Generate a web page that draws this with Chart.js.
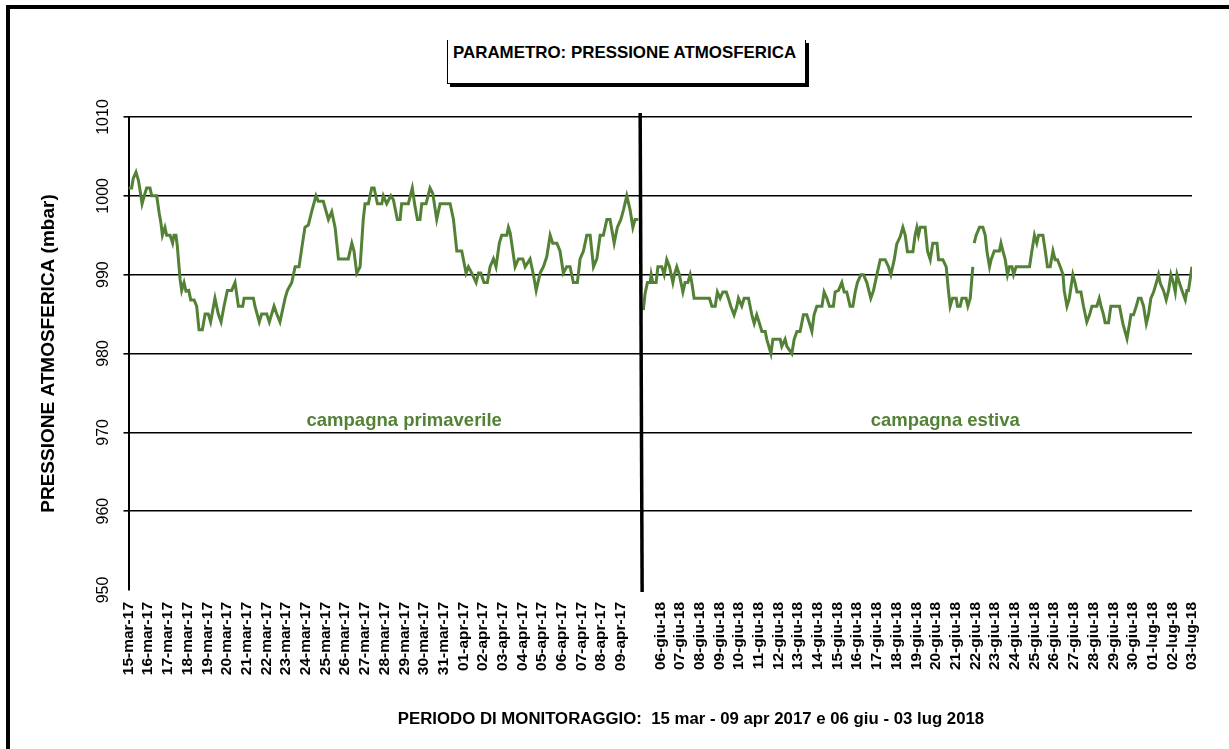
<!DOCTYPE html>
<html>
<head>
<meta charset="utf-8">
<script src="https://cdn.jsdelivr.net/npm/chart.js@4.4.1/dist/chart.umd.min.js"></script>
<style>
  html, body { margin: 0; padding: 0; background: #fff; }
  body { width: 1229px; height: 749px; position: relative; overflow: hidden; font-family: "Liberation Sans", Arial, sans-serif; }
  #frame { position: absolute; left: 6px; top: 5px; width: 1400px; height: 900px; border-top: 4px solid #000; border-left: 4px solid #000; }
  #titlebox { position: absolute; left: 447px; top: 40px; width: 359px; height: 44px; box-sizing: border-box;
              border-left: 1px solid #000; border-right: 1px solid #000; border-bottom: 1px solid #000; box-shadow: 3px 3px 0 #000; }
  #titletext { position: absolute; left: 5px; top: 5px; font-weight: bold; font-size: 16.9px; line-height: 16px; white-space: nowrap; color: #000; }
  canvas { position: absolute; left: 0; top: 0; }
</style>
</head>
<body>
<div id="frame"></div>
<div id="titlebox"><div id="titletext">PARAMETRO: PRESSIONE ATMOSFERICA</div></div>
<canvas id="chart" width="1229" height="749"></canvas>
<script>
// tick labels, one per day (index 26 is the empty slot between the campaigns)
const dayLabels = [
  '15-mar-17','16-mar-17','17-mar-17','18-mar-17','19-mar-17','20-mar-17','21-mar-17','22-mar-17','23-mar-17',
  '24-mar-17','25-mar-17','26-mar-17','27-mar-17','28-mar-17','29-mar-17','30-mar-17','31-mar-17',
  '01-apr-17','02-apr-17','03-apr-17','04-apr-17','05-apr-17','06-apr-17','07-apr-17','08-apr-17','09-apr-17',
  '',
  '06-giu-18','07-giu-18','08-giu-18','09-giu-18','10-giu-18','11-giu-18','12-giu-18','13-giu-18','14-giu-18',
  '15-giu-18','16-giu-18','17-giu-18','18-giu-18','19-giu-18','20-giu-18','21-giu-18','22-giu-18','23-giu-18',
  '24-giu-18','25-giu-18','26-giu-18','27-giu-18','28-giu-18','29-giu-18','30-giu-18',
  '01-lug-18','02-lug-18','03-lug-18'
];
const yTicks = [950, 960, 970, 980, 990, 1000, 1010];

// campagna primaverile: time in days from 15-mar, pressure in mbar
const springDays = [
  0.00,0.16,0.24,0.38,0.50,0.58,0.69,0.80,0.92,1.09,1.18,1.43,1.56,1.65,1.72,1.85,1.94,2.11,2.24,2.31,
  2.41,2.48,2.62,2.70,2.82,2.92,3.06,3.16,3.33,3.46,3.58,3.75,3.89,4.05,4.17,4.39,4.56,4.70,4.85,5.02,
  5.24,5.41,5.58,5.80,5.87,6.08,6.34,6.42,6.64,6.76,7.02,7.15,7.39,7.53,7.69,7.95,8.07,8.29,8.46,8.66,
  8.80,8.96,9.13,9.30,9.52,9.64,9.89,10.15,10.32,10.49,10.66,10.91,11.16,11.34,11.45,11.59,11.76,11.92,12.01,12.18,
  12.35,12.47,12.64,12.86,12.94,13.11,13.32,13.45,13.65,13.79,13.87,14.21,14.41,14.55,14.67,14.80,14.89,15.11,15.31,15.45,
  15.65,15.82,16.33,16.50,16.67,16.92,17.14,17.26,17.43,17.65,17.77,17.89,18.05,18.22,18.36,18.53,18.66,18.83,18.95,19.21,
  19.29,19.38,19.63,19.80,20.02,20.14,20.39,20.56,20.70,20.90,21.07,21.24,21.41,21.54,21.75,21.91,22.08,22.25,22.42,22.59,
  22.79,22.93,23.10,23.27,23.44,23.61,23.78,23.95,24.11,24.29,24.45,24.66,24.82,25.00,25.13,25.30,25.47,25.61,25.72,25.89
];
const springPressure = [
  1001,1001,1002.2,1003,1002,1000.8,999,1000,1001,1001,1000,1000,997.8,996.5,995,996,995,995,994,995,
  995,993.6,989.4,988,989,987.9,988,986.8,986.8,986,983,983,985,985,984,987,985,984,986,988,
  988,989,986,986,987,987,987,986,984,985,985,984,986,985,984,987,988,989,991,991,
  993.4,996,996.3,998,1000,999.3,999.3,997,998,996,992,992,992,994,993,990.2,991,997,999,999,
  1001,1001,999,999,1000,999,1000,999.5,997,997,999,999,1001,998.6,997,997,999,999,1001,1000.3,
  997,999,999,997,993,993,990.2,991,990.2,989,990.2,990.2,989,989,991,992,991,994,995,995,
  996,995.3,991,992,992,991,992,990,988,990.2,991,992.3,995,994,994,993,990.2,991,991,989,
  989,992,993,995,995,991,992,995,995,997,997,994,996,997,998.2,1000,998.2,996,997,997
];

// campagna estiva (null = missing data)
const summerDays = [
  26.14,26.23,26.35,26.49,26.54,26.62,26.79,26.88,27.08,27.20,27.33,27.47,27.64,27.72,27.84,27.97,28.15,28.26,28.40,28.52,
  28.60,28.72,28.86,29.28,29.50,29.62,29.79,29.90,30.04,30.18,30.35,30.46,30.58,30.75,30.89,30.97,31.14,31.26,31.48,31.65,
  31.77,31.90,32.04,32.16,32.33,32.41,32.62,32.72,32.92,33.09,33.17,33.34,33.43,33.68,33.80,33.94,34.10,34.27,34.44,34.58,
  34.70,34.81,34.95,35.21,35.32,35.46,35.59,35.79,35.88,36.05,36.22,36.34,36.47,36.64,36.78,36.90,37.01,37.19,37.32,37.49,
  37.69,37.83,38.00,38.17,38.42,38.59,38.71,38.88,39.01,39.18,39.32,39.44,39.55,39.83,39.94,40.03,40.11,40.20,40.45,40.57,
  40.71,40.84,41.05,41.13,41.35,41.52,41.64,41.72,41.84,42.03,42.09,42.23,42.32,42.53,42.62,42.74,42.87,42.90,42.94,43.04,
  43.21,43.38,43.50,43.59,43.72,43.80,43.96,44.22,44.30,44.40,44.52,44.63,44.73,44.86,44.94,45.07,45.19,45.75,45.87,46.00,
  46.12,46.21,46.43,46.55,46.66,46.80,46.94,47.05,47.17,47.31,47.45,47.51,47.65,47.77,47.95,48.07,48.16,48.36,48.49,48.66,
  48.80,48.92,49.17,49.29,49.38,49.51,49.59,49.76,49.88,50.32,50.49,50.70,50.83,50.90,51.03,51.17,51.28,51.41,51.54,51.68,
  51.79,51.91,52.05,52.18,52.30,52.39,52.55,52.69,52.81,52.93,53.06,53.15,53.24,53.37,53.49,53.66,53.74,53.82,54.00
];
const summerPressure = [
  985.5,987.6,989,989,990,989,989,991,991,990,991.9,991,989,990,991,990,987.8,989,989,990,
  989,987,987,987,987,986,986,987.8,987,987.8,987.8,987,986,984.9,986,987,986,987,987,984.9,
  983.8,984.9,983.8,982.8,982.8,981.8,980,981.8,981.8,981.8,980.9,981.8,980.9,980,981.8,982.8,982.8,984.9,984.9,983.8,
  982.8,984.9,986,986,987.8,987,986,986,987.8,988,989,987.8,987.8,986,986,987.8,989,990,990,989,
  987,988,990,991.9,991.9,991,990,991.9,993.9,994.8,996,995,992.9,992.9,995,996,995,996,996,993,
  991.9,994,994,991.9,991.9,991,987.8,986,987,987,986,986,987,987,986,987,991,null,994,995,
  996,996,995,992.9,991,991.9,993,993,994,993,991.9,990,991,991,990,991,991,991,993,995,
  994,995,995,993,991,991,993,991.9,991.9,991,990,988,986,987,990,988.9,987.8,987.8,986,984,
  984.9,986,986,987,986,984.9,983.9,983.9,986,986,983.8,981.9,983.8,984.9,984.9,986,987,987,986,983.8,
  984.9,987,987.8,988.9,990,988.9,988,986.8,988,990,988.9,987.8,990,988.9,988,986.8,988,988,991
];

const GREEN = '#538135';
const FONT = '"Liberation Sans", Arial, sans-serif';
const toPoints = (days, vals) => days.map((d, i) => ({ x: d, y: vals[i] }));

const overlay = {
  id: 'overlay',
  afterDatasetsDraw(chart) {
    const { ctx, chartArea, scales: { x, y } } = chart;
    ctx.save();
    // separation line between the two campaigns
    ctx.strokeStyle = '#000';
    ctx.lineWidth = 3.5;
    ctx.beginPath();
    ctx.moveTo(x.getPixelForValue(25.98), chartArea.top - 4);
    ctx.lineTo(x.getPixelForValue(26.08), chartArea.bottom + 2);
    ctx.stroke();

    // campaign names
    ctx.fillStyle = GREEN;
    ctx.font = 'bold 18.5px ' + FONT;
    ctx.textAlign = 'center';
    ctx.textBaseline = 'middle';
    ctx.fillText('campagna primaverile', x.getPixelForValue(14.0), y.getPixelForValue(971.5));
    ctx.fillText('campagna estiva', x.getPixelForValue(41.47), y.getPixelForValue(971.5));

    // y tick labels, rotated
    ctx.fillStyle = '#000';
    ctx.font = '16px ' + FONT;
    yTicks.forEach(v => {
      ctx.save();
      ctx.translate(104, y.getPixelForValue(v));
      ctx.rotate(-Math.PI / 2);
      ctx.fillText(String(v), 0, 0);
      ctx.restore();
    });

    // x axis title
    ctx.font = 'bold 16.8px ' + FONT;
    ctx.fillText('PERIODO DI MONITORAGGIO:  15 mar - 09 apr 2017 e 06 giu - 03 lug 2018', 691, 719);
    ctx.restore();
  }
};

new Chart(document.getElementById('chart'), {
  type: 'line',
  data: {
    datasets: [
      { data: toPoints(springDays, springPressure), borderColor: GREEN, borderWidth: 3, pointRadius: 0, tension: 0, fill: false },
      { data: toPoints(summerDays, summerPressure), borderColor: GREEN, borderWidth: 3, pointRadius: 0, tension: 0, fill: false, spanGaps: false }
    ]
  },
  options: {
    responsive: false,
    animation: false,
    devicePixelRatio: 1,
    layout: { padding: { left: 0, top: 117, right: 37, bottom: 0 } },
    plugins: { legend: { display: false }, tooltip: { enabled: false } },
    scales: {
      x: {
        type: 'linear', min: 0, max: 54,
        grid: { display: false, drawTicks: false },
        border: { display: false },
        afterBuildTicks: s => { s.ticks = dayLabels.map((_, i) => ({ value: i })); },
        afterFit: s => { s.height = 159; },
        ticks: {
          autoSkip: false, maxRotation: 90, minRotation: 90, padding: 12, color: '#000',
          font: { family: FONT, size: 15.5, weight: 'bold' },
          callback: v => dayLabels[v]
        }
      },
      y: {
        min: 950, max: 1010,
        afterBuildTicks: s => { s.ticks = yTicks.map(v => ({ value: v })); },
        afterFit: s => { s.width = 128.5; },
        grid: { color: c => (c.tick && c.tick.value === 950) ? 'rgba(0,0,0,0)' : '#000', lineWidth: 1.6, tickLength: 5, drawTicks: true },
        border: { display: true, color: '#000', width: 2 },
        ticks: { display: false },
        title: { display: true, text: 'PRESSIONE ATMOSFERICA (mbar)', color: '#000', font: { family: FONT, size: 19, weight: 'bold' }, padding: { top: 37, bottom: 0 } }
      }
    }
  },
  plugins: [overlay]
});
</script>
</body>
</html>
